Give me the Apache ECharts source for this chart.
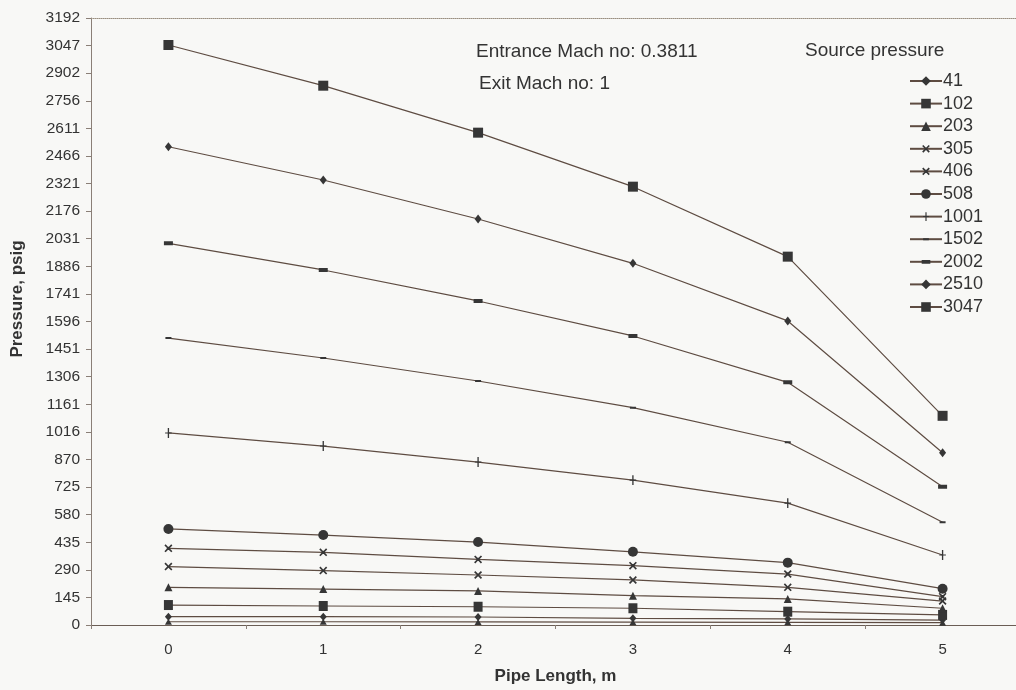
<!DOCTYPE html>
<html>
<head>
<meta charset="utf-8">
<script src="https://cdn.jsdelivr.net/npm/echarts@6/dist/echarts.min.js"></script>
<style>
html,body{margin:0;padding:0;background:#f8f8f6;}
#c{width:1016px;height:690px;}
</style>
</head>
<body>
<div id="c"></div>
<script>
const categories = ['0','1','2','3','4','5'];
const yTickLabels = ['0','145','290','435','580','725','870','1016','1161','1306','1451','1596','1741','1886','2031','2176','2321','2466','2611','2756','2902','3047','3192'];
const seriesNames = ['41','102','203','305','406','508','1001','1502','2002','2510','3047'];
const s41   = [44, 44, 42, 35, 32, 26];
const s102  = [105, 100, 96, 88, 70, 53];
const s203  = [198, 189, 179, 154, 137, 88];
const s305  = [307, 286, 263, 237, 198, 126];
const s406  = [403, 382, 345, 312, 268, 149];
const s508  = [505, 473, 436, 385, 328, 191];
const s1001 = [1010, 941, 857, 762, 641, 368];
const s1502 = [1509, 1404, 1283, 1143, 961, 540];
const s2002 = [2007, 1867, 1704, 1520, 1276, 727];
const s2510 = [2515, 2340, 2135, 1902, 1599, 906];
const s3047 = [3050, 2836, 2589, 2305, 1937, 1100];
const sBase = [17, 17, 16, 15, 14, 12];

// tiny corner sub-paths keep every custom symbol's box at 10x10
const BOX = 'M0,0L0.01,0L0,0.01Z M10,10L9.99,10L10,9.99Z ';
const X_SYM = 'path://' + BOX + 'M1,2.2L2.2,1L5,3.8L7.8,1L9,2.2L6.2,5L9,7.8L7.8,9L5,6.2L2.2,9L1,7.8L3.8,5Z';
const AST_SYM = 'path://' + BOX + 'M1,2.2L2.2,1L5,3.8L7.8,1L9,2.2L6.2,5L9,7.8L7.8,9L5,6.2L2.2,9L1,7.8L3.8,5Z M3.3,3.3L6.7,3.3L6.7,6.7L3.3,6.7Z';
const PLUS_SYM = 'path://' + BOX + 'M4.4,0.5L5.6,0.5L5.6,9.5L4.4,9.5Z M2,4.5L8,4.5L8,5.5L2,5.5Z';
const DASH_S = 'path://' + BOX + 'M2,4L8,4L8,6L2,6Z';
const DASH_L = 'path://' + BOX + 'M0.5,3L9.5,3L9.5,7L0.5,7Z';

const lineColor = '#5e4c42';
const markColor = '#363636';
const FONT = 'Liberation Sans, Arial, sans-serif';

function mk(name, data, symbol, size) {
  return {
    name: name, type: 'line', data: data, symbol: symbol, symbolSize: size,
    showAllSymbol: true, animation: false,
    lineStyle: {color: lineColor, width: 1.2},
    itemStyle: {color: markColor, borderColor: markColor, borderWidth: 0},
    emphasis: {disabled: true}
  };
}

const series = [
  mk('41', s41, 'diamond', [7, 8]),
  mk('102', s102, 'rect', [9, 10]),
  mk('203', s203, 'triangle', [8, 8]),
  mk('305', s305, X_SYM, 10),
  mk('406', s406, AST_SYM, 10),
  mk('508', s508, 'circle', 10),
  mk('1001', s1001, PLUS_SYM, 11),
  mk('1502', s1502, DASH_S, 10),
  mk('2002', s2002, DASH_L, 10),
  mk('2510', s2510, 'diamond', [7, 9]),
  mk('3047', s3047, 'rect', [10, 10]),
  mk('base', sBase, 'triangle', [7, 6])
];

const chart = echarts.init(document.getElementById('c'), null, {renderer: 'canvas'});
const yInt = 3192 / 22;
chart.setOption({
  backgroundColor: '#f8f8f6',
  animation: false,
  textStyle: {fontFamily: FONT},
  grid: {left: 91, right: -4, top: 18, bottom: 65, containLabel: false, outerBoundsMode: 'none'},
  legend: {
    data: seriesNames,
    orient: 'vertical',
    left: 904, top: 67,
    itemWidth: 32, itemHeight: 12, itemGap: 4.6,
    textStyle: {fontSize: 18, color: '#333', padding: [0,0,0,-4], lineHeight: 18},
    selectedMode: false
  },
  graphic: [
    {type: 'text', left: 476, top: 42, style: {text: 'Entrance Mach no: 0.3811', fontSize: 19, fill: '#333', fontFamily: FONT}},
    {type: 'text', left: 479, top: 74, style: {text: 'Exit Mach no: 1', fontSize: 19, fill: '#333', fontFamily: FONT}},
    {type: 'text', left: 805, top: 41, style: {text: 'Source pressure', fontSize: 19, fill: '#333', fontFamily: FONT}},
    {type: 'text', x: 17, y: 299, rotation: Math.PI / 2,
      style: {text: 'Pressure, psig', fontSize: 17, fontWeight: 'bold', fill: '#333', fontFamily: FONT, align: 'center', verticalAlign: 'middle'}}
  ],
  xAxis: [{
    type: 'category', data: categories, boundaryGap: true,
    name: 'Pipe Length, m', nameLocation: 'middle', nameGap: 43,
    nameTextStyle: {fontSize: 17, fontWeight: 'bold', color: '#333'},
    axisLine: {lineStyle: {color: '#6b5e55', width: 1.2}},
    axisTick: {show: true, length: 4, lineStyle: {color: '#8a7f77'}},
    axisLabel: {fontSize: 15, color: '#333', margin: 17},
    splitLine: {show: false}
  }, {
    type: 'category', data: categories, position: 'top',
    axisLine: {show: true, lineStyle: {color: '#9a8f80', type: 'dotted', width: 1}},
    axisTick: {show: false}, axisLabel: {show: false}
  }],
  yAxis: {
    type: 'value', min: 0, max: 3192, interval: yInt,
    axisLine: {show: true, lineStyle: {color: '#8a7f77', width: 1}},
    axisTick: {show: true, length: 5, lineStyle: {color: '#8a7f77'}},
    axisLabel: {fontSize: 15.5, color: '#333', margin: 11,
      formatter: function (v) { const i = Math.round(v / yInt); return yTickLabels[i] !== undefined ? yTickLabels[i] : ''; }},
    splitLine: {show: false}
  },
  series: series
});
</script>
</body>
</html>
